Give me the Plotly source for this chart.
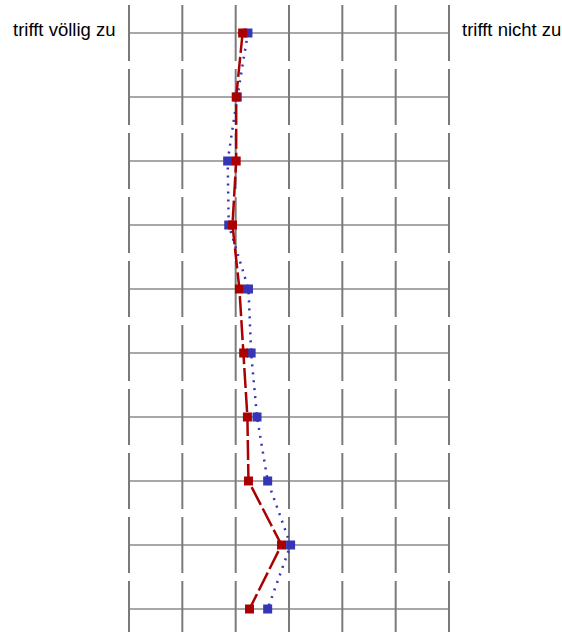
import plotly.graph_objects as go

# Profile values per item (1 = trifft völlig zu, 7 = trifft nicht zu)
items = list(range(1, 11))
series_red = [3.13, 3.01, 3.01, 2.94, 3.07, 3.15, 3.22, 3.24, 3.86, 3.26]
series_blue = [3.23, 3.03, 2.85, 2.87, 3.24, 3.29, 3.40, 3.60, 4.03, 3.60]
scale_points = [1, 2, 3, 4, 5, 6, 7]
label_left = "trifft völlig zu"
label_right = "trifft nicht zu"

fig = go.Figure()

# grid: horizontal line per item, vertical segments per item (broken between rows)
seg = 28 / 64
shapes = []
for it in items:
    shapes.append(dict(type="line", xref="x", yref="y", x0=scale_points[0], x1=scale_points[-1],
                       y0=it, y1=it, line=dict(color="#505050", width=1.2), layer="below"))
    for sp in scale_points:
        shapes.append(dict(type="line", xref="x", yref="y", x0=sp, x1=sp,
                           y0=it - seg, y1=it + seg, line=dict(color="#7a7a7a", width=2), layer="below"))

fig.add_trace(go.Scatter(
    x=series_blue, y=items, mode="lines+markers",
    line=dict(color="#3535b5", width=2.5, dash="2px,6px"),
    marker=dict(symbol="square", size=9, color="#3535b5"),
    showlegend=False, cliponaxis=False,
))
fig.add_trace(go.Scatter(
    x=series_red, y=items, mode="lines+markers",
    line=dict(color="#aa0000", width=2.5, dash="20px,4px"),
    marker=dict(symbol="square", size=9, color="#aa0000"),
    showlegend=False, cliponaxis=False,
))

fig.update_layout(
    width=562, height=632,
    margin=dict(l=121, r=105, t=0, b=0),
    paper_bgcolor="white", plot_bgcolor="white",
    shapes=shapes,
    font=dict(family="Liberation Sans, Arial, sans-serif", size=18.5, color="black"),
    annotations=[
        dict(x=scale_points[0], y=items[0], xref="x", yref="y", text=label_left, showarrow=False,
             xanchor="right", yanchor="middle", xshift=-12, yshift=4),
        dict(x=scale_points[-1], y=items[0], xref="x", yref="y", text=label_right, showarrow=False,
             xanchor="left", yanchor="middle", xshift=11, yshift=4),
    ],
)
fig.update_xaxes(range=[0.85, 7.15], visible=False, fixedrange=True)
fig.update_yaxes(range=[10.359375, 0.484375], visible=False, fixedrange=True)

# drop the default page margin so the figure sits at the window's corner
fig.write_html("out.html", config={"displayModeBar": False},
               post_script="document.body.style.margin='0';document.body.style.overflow='hidden';")
